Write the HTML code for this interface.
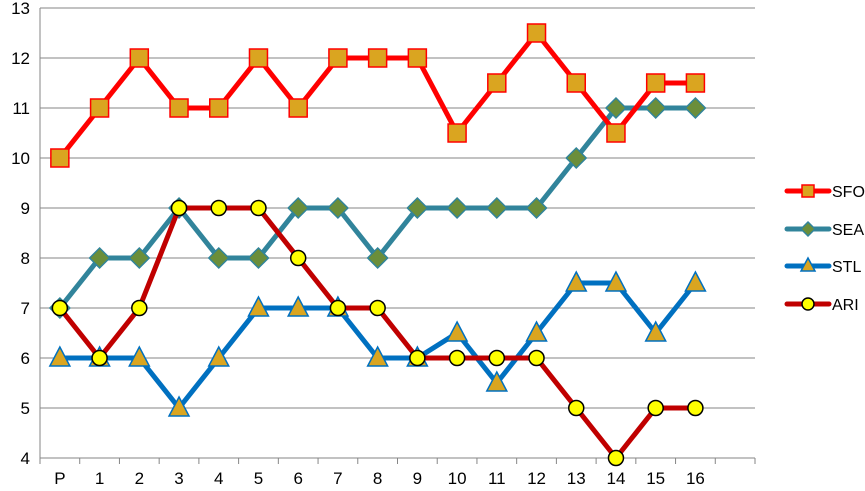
<!DOCTYPE html>
<html><head><meta charset="utf-8"><style>
body{margin:0;background:#fff;}
svg{display:block;font-family:"Liberation Sans",sans-serif;}
</style></head><body>
<svg id="chart" width="865" height="491" viewBox="0 0 865 491"></svg>
<script>
const categories=["P","1","2","3","4","5","6","7","8","9","10","11","12","13","14","15","16"];
const yTicks=[4,5,6,7,8,9,10,11,12,13];
const sfo=[10,11,12,11,11,12,11,12,12,12,10.5,11.5,12.5,11.5,10.5,11.5,11.5];
const sea=[7,8,8,9,8,8,9,9,8,9,9,9,9,10,11,11,11];
const stl=[6,6,6,5,6,7,7,7,6,6,6.5,5.5,6.5,7.5,7.5,6.5,7.5];
const ari=[7,6,7,9,9,9,8,7,7,6,6,6,6,5,4,5,5];
const seriesNames=["SFO","SEA","STL","ARI"];

const NS="http://www.w3.org/2000/svg";
const svg=document.getElementById('chart');
const L=40,R=755,T=8,B=458,ymin=4,ymax=13,nSlots=18;
const step=(R-L)/nSlots;
const xs=i=>L+step*(i+0.5);
const ys=v=>B-(v-ymin)/(ymax-ymin)*(B-T);
function mk(tag,attrs,parent){const e=document.createElementNS(NS,tag);for(const k in attrs)e.setAttribute(k,attrs[k]);(parent||svg).appendChild(e);return e;}

yTicks.forEach(t=>{
  const g=mk('line',{x1:L,x2:R,y1:ys(t),y2:ys(t),stroke:'#868686','stroke-width':1});
  
  
  const tx=mk('text',{x:30,y:ys(t)+6,'text-anchor':'end','font-size':17,fill:'#000'});
  tx.textContent=t;
  
  
});
const ax=mk('line',{x1:L,x2:L,y1:T,y2:B+6,stroke:'#868686','stroke-width':1});


for(let i=0;i<=nSlots;i++){
  const tk=mk('line',{x1:L+step*i,x2:L+step*i,y1:B,y2:B+6,stroke:'#868686'});
  
  
}
categories.forEach((c,i)=>{
  const tx=mk('text',{x:xs(i),y:B+26,'text-anchor':'middle','font-size':17,fill:'#000'});
  tx.textContent=c;
  
  
});

function marker(type,x,y,parent){
  let e;
  if(type==='square'){e=mk('rect',{x:x-9,y:y-9,width:18,height:18,fill:'#DAA520',stroke:'#FF0000','stroke-width':1.5},parent);}
  else if(type==='diamond'){e=mk('polygon',{points:`${x},${y-10} ${x+10},${y} ${x},${y+10} ${x-10},${y}`,fill:'#6B8E3A',stroke:'#31849B','stroke-width':1.5},parent);}
  else if(type==='tri'){e=mk('polygon',{points:`${x},${y-11} ${x+10},${y+8} ${x-10},${y+8}`,fill:'#DAA520',stroke:'#0070C0','stroke-width':1.5},parent);}
  else {e=mk('circle',{cx:x,cy:y,r:7.5,fill:'#FFFF00',stroke:'#000','stroke-width':1.5},parent);}
  return e;
}
const defs=[[sfo,'#FF0000','square'],[sea,'#31849B','diamond'],[stl,'#0070C0','tri'],[ari,'#C00000','circle']];
const order=[1,2,3,0];
order.forEach(k=>{
  const [data,col,m]=defs[k];
  const g=mk('g',{});
  
  
  const pl=mk('polyline',{points:data.map((v,i)=>xs(i)+','+ys(v)).join(' '),fill:'none',stroke:col,'stroke-width':5,'stroke-linejoin':'round','stroke-linecap':'round'},g);
  
  
  data.forEach((v,i)=>{
    const e=marker(m,xs(i),ys(v),g);
    
    
  });
});
// legend
const legY=[191,229,266,304];
defs.forEach((d,k)=>{
  const g=mk('g',{});
  
  
  mk('line',{x1:787,x2:829,y1:legY[k],y2:legY[k],stroke:d[1],'stroke-width':5,'stroke-linecap':'round'},g);
  const mm=marker(d[2],808,legY[k],g);
  if(d[2]==='square'){mm.setAttribute('x',802);mm.setAttribute('y',legY[k]-6);mm.setAttribute('width',12);mm.setAttribute('height',12);}
  if(d[2]==='diamond'){mm.setAttribute('points',`808,${legY[k]-7} 815,${legY[k]} 808,${legY[k]+7} 801,${legY[k]}`);}
  if(d[2]==='tri'){mm.setAttribute('points',`808,${legY[k]-8} 815,${legY[k]+5} 801,${legY[k]+5}`);}
  if(d[2]==='circle'){mm.setAttribute('r',6);}
  const tx=mk('text',{x:832,y:legY[k]+6,'font-size':16,fill:'#000'},g);
  tx.textContent=seriesNames[k];
});
</script>
</body></html>
